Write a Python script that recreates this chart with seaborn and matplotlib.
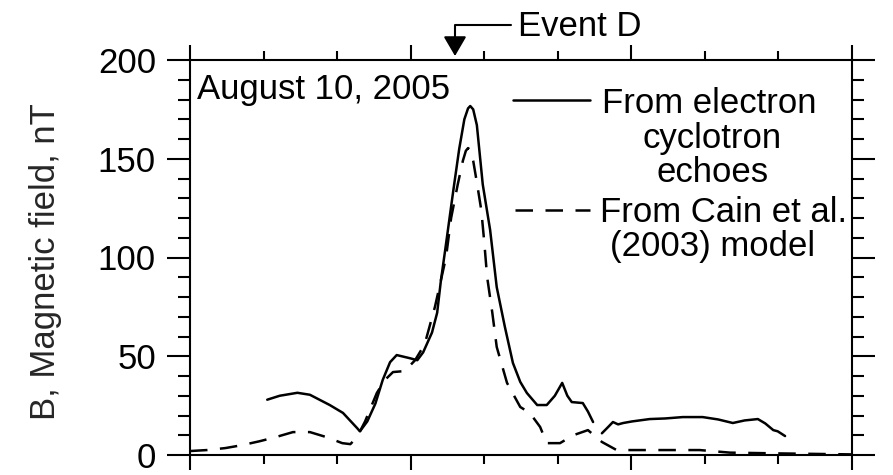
import numpy as np
import pandas as pd
import matplotlib
matplotlib.use("Agg")
import matplotlib.pyplot as plt
from matplotlib.ticker import MultipleLocator, NullFormatter
import seaborn as sns

# ---- data (x in arbitrary time units, axis 0..9; B in nT) ----
echo_x1 = [1.05, 1.22, 1.46, 1.63, 1.90, 2.08, 2.27, 2.31, 2.41, 2.52, 2.62, 2.72,
           2.81, 2.99, 3.09, 3.17, 3.29, 3.36, 3.41, 3.47, 3.58, 3.66, 3.73, 3.78,
           3.81, 3.85, 3.90, 3.98, 4.08, 4.17, 4.28, 4.39, 4.49, 4.58, 4.72, 4.85,
           4.96, 5.06, 5.13, 5.19, 5.34, 5.41, 5.48]
echo_b1 = [28, 30, 31.5, 30.5, 25.3, 21.3, 13.7, 12, 17, 26, 38, 47,
           50.6, 49, 48, 52, 62, 72, 88, 104, 134, 155, 170, 175.5,
           176.7, 175, 167, 137, 114, 85, 65, 46.6, 37, 31.4, 25.3, 25.3,
           30, 36.5, 30, 26.8, 26.3, 22, 16.7]
echo_x2 = [5.60, 5.68, 5.75, 5.82, 5.89, 6.01, 6.25, 6.46, 6.70, 6.97, 7.18, 7.38,
           7.54, 7.72, 7.82, 7.93, 7.99, 8.09]
echo_b2 = [11, 14, 16.7, 15.5, 16.2, 17, 18.2, 18.5, 19.2, 19.2, 18, 16.2,
           17.5, 18.2, 16, 12.6, 12, 9.6]

model_x = [0.00, 0.23, 0.48, 0.71, 0.95, 1.16, 1.40, 1.63, 1.86, 2.07, 2.18, 2.27,
           2.38, 2.54, 2.65, 2.76, 2.92, 3.06, 3.19, 3.33, 3.48, 3.55, 3.64, 3.71,
           3.75, 3.78, 3.81, 3.85, 3.90, 3.96, 4.00, 4.04, 4.11, 4.17, 4.31, 4.49,
           4.62, 4.76, 4.85, 5.03, 5.21, 5.41, 5.60, 5.80, 6.93, 7.34, 8.02, 9.00]
model_b = [2, 2.5, 3.5, 5, 7, 9, 11.6, 11.6, 9, 6, 5.5, 9,
           17, 31.4, 38, 42, 42.5, 48, 56, 75, 100, 120, 137, 149,
           154, 155.4, 154.5, 149, 138, 124, 108, 90, 72, 54.7, 36.5, 24.3,
           21.3, 14.2, 6, 6, 10, 12.6, 6.6, 2.5, 2.5, 1.2, 0.8, 0.3]

y_ticks = [0, 50, 100, 150, 200]
date_text = "August 10, 2005"
event_text = "Event D"
legend_echo = ["From electron", "cyclotron", "echoes"]
legend_model = ["From Cain et al.", "(2003) model"]
y_label = "B, Magnetic field, nT"

# ---- styling ----
sns.set_style("white")
plt.rcParams["font.family"] = ["Liberation Sans", "DejaVu Sans"]
plt.rcParams["text.color"] = "black"
FS = 25

fig = plt.figure(figsize=(8.93, 4.75), dpi=100)
ax = fig.add_axes([190 / 893, 20 / 475, 662 / 893, 395 / 475])

df1 = pd.DataFrame({"t": echo_x1, "B": echo_b1})
df2 = pd.DataFrame({"t": echo_x2, "B": echo_b2})
dfm = pd.DataFrame({"t": model_x, "B": model_b})

LW = 1.8
sns.lineplot(data=df1, x="t", y="B", color="black", linewidth=LW, ax=ax,
             estimator=None, sort=False)
sns.lineplot(data=df2, x="t", y="B", color="black", linewidth=LW, ax=ax,
             estimator=None, sort=False)
sns.lineplot(data=dfm, x="t", y="B", color="black", linewidth=LW, ax=ax,
             estimator=None, sort=False, linestyle=(0, (7, 5)))

ax.set_xlim(0, 9)
ax.set_ylim(0, 200)
ax.set_xlabel("")
ax.set_ylabel(y_label, fontsize=FS)
ax.yaxis.set_label_coords((62 - 190) / 662, (455 - 261.5) / 395)

ax.set_yticks(y_ticks)
ax.yaxis.set_minor_locator(MultipleLocator(10))
ax.xaxis.set_major_locator(MultipleLocator(3))
ax.xaxis.set_minor_locator(MultipleLocator(1))
ax.xaxis.set_major_formatter(NullFormatter())

for s in ax.spines.values():
    s.set_visible(True)
    s.set_linewidth(1.5)
    s.set_color("black")

ax.tick_params(axis="y", which="major", direction="out", length=16.5, width=1.5,
               left=True, right=True, labelleft=True, labelright=False,
               labelsize=FS, pad=8, colors="black")
ax.tick_params(axis="y", which="minor", direction="out", length=8.5, width=1.5,
               left=True, right=True, colors="black")
ax.tick_params(axis="x", which="major", direction="out", length=11, width=1.5,
               bottom=True, top=True, labelbottom=False, colors="black")
ax.tick_params(axis="x", which="minor", direction="out", length=6.5, width=1.5,
               bottom=True, top=True, colors="black")


def axf(px, py):
    return (px - 190) / 662, (455 - py) / 395


# date label
ax.text(*axf(197, 99), date_text, transform=ax.transAxes, fontsize=FS,
        ha="left", va="baseline")

# legend (manual, to mimic the centered multi-line labels)
x0, y0 = axf(513, 100)
x1, _ = axf(590, 100)
ax.plot([x0, x1], [y0, y0], transform=ax.transAxes, color="black", lw=LW,
        clip_on=False)
x0, y0 = axf(515, 210)
ax.plot([x0, x1], [y0, y0], transform=ax.transAxes, color="black", lw=LW,
        linestyle=(0, (7, 5)), clip_on=False)

for txt, (px, py) in zip(legend_echo, [(602, 113), (643, 148), (657, 182)]):
    ax.text(*axf(px, py), txt, transform=ax.transAxes, fontsize=FS,
            ha="left", va="baseline")
for txt, (px, py) in zip(legend_model, [(600, 222), (610, 256)]):
    ax.text(*axf(px, py), txt, transform=ax.transAxes, fontsize=FS,
            ha="left", va="baseline")

# Event D annotation
ax.text(*axf(518, 36), event_text, transform=ax.transAxes, fontsize=FS,
        ha="left", va="baseline", clip_on=False)
ax.annotate("", xy=axf(455, 56), xycoords="axes fraction",
            xytext=axf(511, 25), textcoords="axes fraction",
            arrowprops=dict(arrowstyle="-|>,head_length=12,head_width=7",
                            mutation_scale=1, color="black", lw=1.5,
                            shrinkA=0, shrinkB=0,
                            connectionstyle="angle,angleA=0,angleB=90,rad=0"),
            annotation_clip=False)

fig.savefig("out.png", dpi=100)
